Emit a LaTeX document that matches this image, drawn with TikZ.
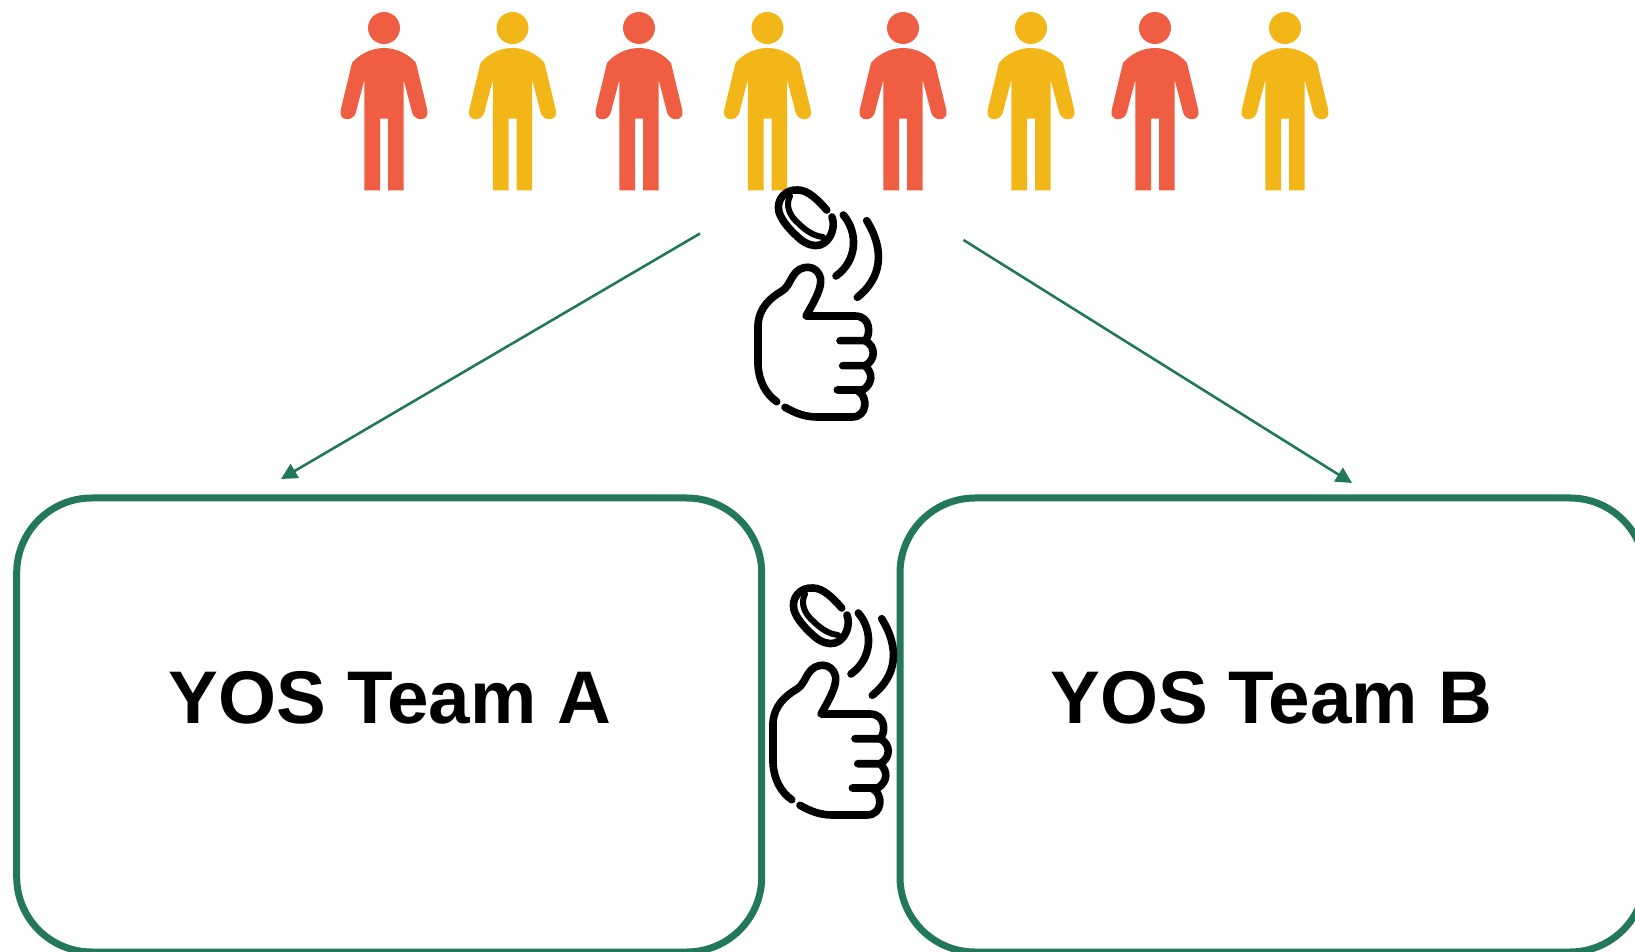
\documentclass[tikz,border=0pt]{standalone}
\usepackage{fontspec}
\setmainfont{Liberation Sans}
\usetikzlibrary{arrows.meta,positioning}
\definecolor{myred}{RGB}{239,94,66}
\definecolor{myyellow}{RGB}{243,182,24}
\definecolor{mygreen}{RGB}{36,120,90}

\begin{document}
\begin{tikzpicture}[x=0.5pt,y=-0.5pt,inner sep=0pt]
\tikzstyle{teambox}=[rectangle, draw=mygreen, line width=3.5pt, rounded corners=37.5pt, minimum width=372.5pt, minimum height=227pt]
\tikzstyle{teamname}=[font=\bfseries\fontsize{37.3}{37.3}\selectfont]
\tikzstyle{connect}=[-{Triangle[length=8pt,width=8pt]}, draw=mygreen, line width=1.3pt]
\tikzstyle{stroke}=[line width=3.8pt, line cap=round, line join=round]
\tikzset{
  person/.pic={
    \fill (0,28) circle (16);
    \fill (-4,190.3) -- (-19.7,190.3) -- (-19.7,80) -- (-28,112) .. controls (-30,122) and (-46,122) .. (-43.3,110) -- (-32,63) .. controls (-25,54.5) and (-13,48) .. (0,48) .. controls (13,48) and (25,54.5) .. (32,63) -- (43.3,110) .. controls (46,122) and (30,122) .. (28,112) -- (19.7,80) -- (19.7,190.3) -- (4,190.3) -- (4,118.7) -- (-4,118.7) -- cycle;
  },
  coinhand/.pic={
    % coin
    \draw[stroke] (96.7,40) .. controls (88,30) and (78,20) .. (68,20) .. controls (55,19) and (46,30) .. (49,42) .. controls (52,52) and (62,62) .. (70,69) .. controls (76,74) and (84,77) .. (90,75) .. controls (100,72) and (106,58) .. (102,47);
    \draw[stroke,line width=3pt] (60,26) .. controls (55,36) and (60,46) .. (68,53) .. controls (76,61) and (84,66) .. (93,67);
    % motion
    \draw[stroke] (113.3,45) .. controls (128,62) and (128,90) .. (106,106);
    \draw[stroke] (136.7,50.7) .. controls (155,80) and (152,108) .. (127.3,127.3);
    % hand
    \draw[stroke] (46.7,231.7) .. controls (36,224) and (29,212) .. (28,195) -- (28,155) .. controls (29,138) and (40,128) .. (52,121) .. controls (59,116) and (60,110) .. (63,106) .. controls (70,94) and (87,94) .. (90.5,108) .. controls (92,118) and (85,130) .. (76,146) -- (125,146) .. controls (141,146) and (141,165) .. (135,170.7) -- (110,170.7);
    \draw[stroke] (135,170.7) .. controls (146,176) and (146,190) .. (135,195.7) -- (112.7,195.7);
    \draw[stroke] (135,195.7) .. controls (143,203) and (143,213) .. (133,220) -- (107.3,220);
    \draw[stroke] (128,221) .. controls (138,226) and (138,247) .. (122,247) -- (87,247) .. controls (75,247) and (65,243) .. (55,237.3);
  }
}
\clip (0,0) rectangle (1635,952);
\useasboundingbox (0,0) rectangle (1635,952);
\foreach \px/\pcol in {384/myred,512.5/myyellow,639/myred,767.5/myyellow,903/myred,1031/myyellow,1155/myred,1285/myyellow}
  \pic[fill=\pcol] at (\px,0) {person};
\node[teambox] (boxa) at (389.2,725) {};
\node[teambox] (boxb) at (1272.5,725) {};
\node[teamname] (namea) at (390,698) {YOS Team A};
\node[teamname] (nameb) at (1271.5,698) {YOS Team B};
\pic at (730,170) {coinhand};
\pic at (745,568) {coinhand};
\coordinate (starta) at (700,233.5);
\coordinate (enda) at (281,479);
\coordinate (startb) at (963.5,240);
\coordinate (endb) at (1352,483);
\path (starta) edge[connect] (enda);
\path (startb) edge[connect] (endb);
\end{tikzpicture}
\end{document}
